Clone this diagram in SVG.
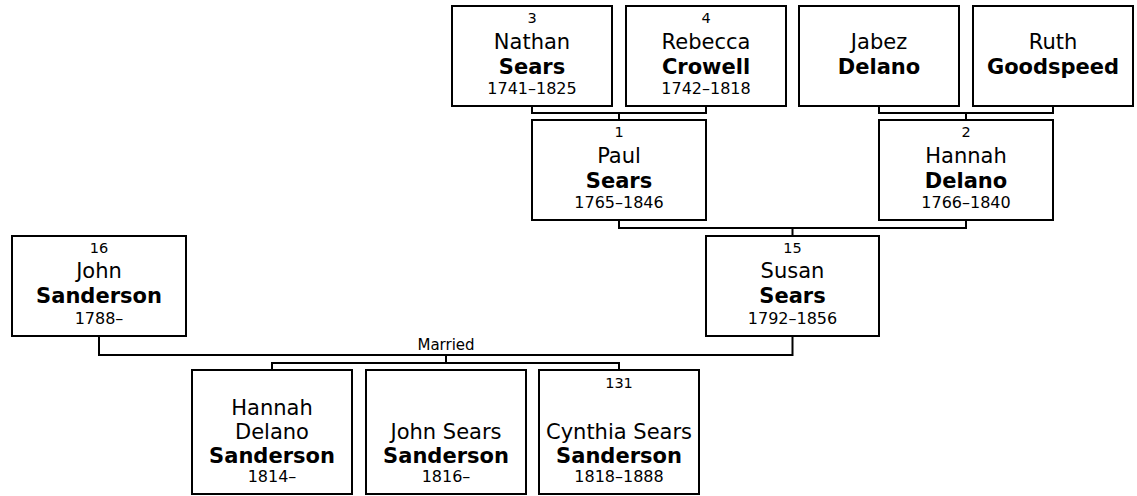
<svg xmlns="http://www.w3.org/2000/svg" width="1137" height="496" viewBox="0 0 1137 496">
<style>
.box{fill:#fff;stroke:#000;stroke-width:2}
.con{fill:none;stroke:#000;stroke-width:2}
text{font-family:"DejaVu Sans","Liberation Sans",sans-serif;fill:#000;text-anchor:middle}
.num{font-size:14.5px}
.nm{font-size:21px}
.sn{font-size:21px;font-weight:bold}
.dt{font-size:16px}
.lbl{font-size:15px}
</style>
<rect x="0" y="0" width="1137" height="496" fill="#fff"/>
<g id="connectors">
<path class="con" d="M532 106V113H706V106M619 113V120"/>
<path class="con" d="M879 106V113H1053V106M966 113V120"/>
<path class="con" d="M619 220V228H966V220M792.5 228V236"/>
<path class="con" d="M99 336V355H792.5V336"/>
<path class="con" d="M446 355V363M272 370V363H619V370"/>
<text class="lbl" x="446" y="350">Married</text>
</g>
<g id="p3">
<rect class="box" x="452" y="6" width="160" height="100"/>
<text class="num" x="532" y="23">3</text>
<text class="nm" x="532" y="48.5">Nathan</text>
<text class="sn" x="532" y="73.5">Sears</text>
<text class="dt" x="532" y="94">1741–1825</text>
</g>
<g id="p4">
<rect class="box" x="626" y="6" width="160" height="100"/>
<text class="num" x="706" y="23">4</text>
<text class="nm" x="706" y="48.5">Rebecca</text>
<text class="sn" x="706" y="73.5">Crowell</text>
<text class="dt" x="706" y="94">1742–1818</text>
</g>
<g id="jabez">
<rect class="box" x="799" y="6" width="160" height="100"/>
<text class="nm" x="879" y="48.5">Jabez</text>
<text class="sn" x="879" y="73.5">Delano</text>
</g>
<g id="ruth">
<rect class="box" x="973" y="6" width="160" height="100"/>
<text class="nm" x="1053" y="48.5">Ruth</text>
<text class="sn" x="1053" y="73.5">Goodspeed</text>
</g>
<g id="p1">
<rect class="box" x="532" y="120" width="174" height="100"/>
<text class="num" x="619" y="137">1</text>
<text class="nm" x="619" y="162.5">Paul</text>
<text class="sn" x="619" y="187.5">Sears</text>
<text class="dt" x="619" y="208">1765–1846</text>
</g>
<g id="p2">
<rect class="box" x="879" y="120" width="174" height="100"/>
<text class="num" x="966" y="137">2</text>
<text class="nm" x="966" y="162.5">Hannah</text>
<text class="sn" x="966" y="187.5">Delano</text>
<text class="dt" x="966" y="208">1766–1840</text>
</g>
<g id="p16">
<rect class="box" x="12" y="236" width="174" height="100"/>
<text class="num" x="99" y="253">16</text>
<text class="nm" x="99" y="278">John</text>
<text class="sn" x="99" y="303">Sanderson</text>
<text class="dt" x="99" y="323.5">1788–</text>
</g>
<g id="p15">
<rect class="box" x="706" y="236" width="173" height="100"/>
<text class="num" x="792.5" y="253">15</text>
<text class="nm" x="792.5" y="278">Susan</text>
<text class="sn" x="792.5" y="303">Sears</text>
<text class="dt" x="792.5" y="323.5">1792–1856</text>
</g>
<g id="c1">
<rect class="box" x="192" y="370" width="160" height="124"/>
<text class="nm" x="272" y="415">Hannah</text>
<text class="nm" x="272" y="439">Delano</text>
<text class="sn" x="272" y="463">Sanderson</text>
<text class="dt" x="272" y="482">1814–</text>
</g>
<g id="c2">
<rect class="box" x="366" y="370" width="160" height="124"/>
<text class="nm" x="446" y="439">John Sears</text>
<text class="sn" x="446" y="463">Sanderson</text>
<text class="dt" x="446" y="482">1816–</text>
</g>
<g id="c131">
<rect class="box" x="539" y="370" width="160" height="124"/>
<text class="num" x="619" y="388">131</text>
<text class="nm" x="619" y="439">Cynthia Sears</text>
<text class="sn" x="619" y="463">Sanderson</text>
<text class="dt" x="619" y="482">1818–1888</text>
</g>
</svg>
